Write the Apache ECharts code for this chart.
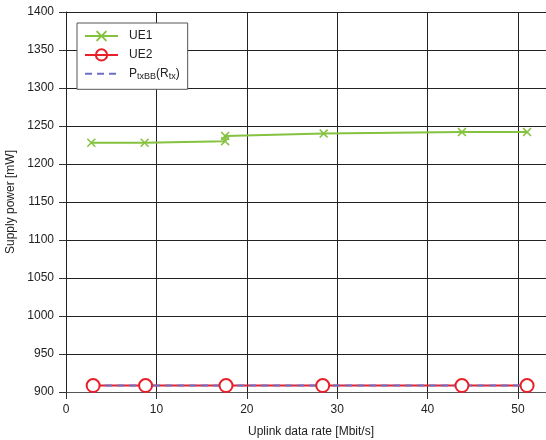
<!DOCTYPE html>
<html><head><meta charset="utf-8">
<script src="https://cdn.jsdelivr.net/npm/echarts@6/dist/echarts.min.js"></script>
<style>html,body{margin:0;padding:0;background:#fff}#c{width:546px;height:440px}</style>
</head><body><div id="c"></div>
<script>
const ue1X = [2.8, 8.7, 17.6, 17.6, 28.5, 43.8, 51.0];
const ue1Y = [1228, 1228, 1230, 1237, 1240, 1242, 1242];
const ue2X = [3, 8.8, 17.7, 28.4, 43.8, 51.0];
const ue2Y = [908.5, 908.5, 908.5, 908.5, 908.5, 908.5];
const pX = [3, 51.0];
const pY = [908.5, 908.5];
const xTicks = [0, 10, 20, 30, 40, 50];
const yTicks = [900, 950, 1000, 1050, 1100, 1150, 1200, 1250, 1300, 1350, 1400];

const pairs = (xs, ys) => xs.map((x, i) => [x, ys[i]]);
const FONT = '"Liberation Sans", Arial, sans-serif';
const GREEN = '#84c23f', RED = '#e8202a', BLUE = '#6d6fc4';
const crossPath = 'path://M0,1.2L1.2,0L5,3.8L8.8,0L10,1.2L6.2,5L10,8.8L8.8,10L5,6.2L1.2,10L0,8.8L3.8,5Z';

const chart = echarts.init(document.getElementById('c'), null, {renderer: 'canvas'});
chart.setOption({
  animation: false,
  backgroundColor: '#fff',
  textStyle: {fontFamily: FONT},
  grid: {left: 66, top: 12, width: 490, height: 380, containLabel: false, outerBoundsMode: 'none'},
  xAxis: {
    type: 'value', min: 0, max: 54.2, interval: 10,
    name: 'Uplink data rate [Mbit/s]', nameLocation: 'middle', nameGap: 34,
    nameTextStyle: {fontSize: 12, color: '#222', fontFamily: FONT},
    axisLine: {show: true, onZero: false, lineStyle: {color: '#555', width: 1}},
    axisTick: {show: true, length: 7, inside: false, lineStyle: {color: '#333'}},
    axisLabel: {fontSize: 12, color: '#222', margin: 12, fontFamily: FONT, showMaxLabel: false,
      formatter: v => xTicks.includes(v) ? String(v) : ''},
    splitLine: {show: true, lineStyle: {color: '#222', width: 1}}
  },
  yAxis: {
    type: 'value', min: 900, max: 1400, interval: 50,
    name: 'Supply power [mW]', nameLocation: 'middle', nameGap: 46, nameRotate: 90,
    nameTextStyle: {fontSize: 12, color: '#222', fontFamily: FONT},
    axisLine: {show: true, onZero: false, lineStyle: {color: '#222', width: 1}},
    axisTick: {show: true, length: 7, inside: false, lineStyle: {color: '#333'}},
    axisLabel: {fontSize: 12, color: '#222', margin: 12, fontFamily: FONT,
      formatter: v => yTicks.includes(v) ? String(v) : ''},
    splitLine: {show: true, lineStyle: {color: '#222', width: 1}}
  },
  legend: {
    orient: 'vertical', left: 77, top: 23,
    padding: [7, 8, 8, 7], itemGap: 6.3, itemWidth: 33, itemHeight: 14,
    borderColor: '#555', borderWidth: 1, backgroundColor: '#fff',
    data: [
      'UE1',
      {name: 'UE2', itemStyle: {color: 'rgba(0,0,0,0)', borderColor: RED, borderWidth: 2}},
      {name: 'P_txBB', itemStyle: {color: 'rgba(0,0,0,0)', borderWidth: 0}}
    ],
    formatter: n => n === 'P_txBB' ? 'P{sub|txBB}(R{sub|tx})' : n,
    textStyle: {fontSize: 12, color: '#222', fontFamily: FONT, padding: [0, 0, 0, 6],
      rich: {sub: {fontSize: 9, fontFamily: FONT, color: '#222', verticalAlign: 'bottom', padding: [6, 0, 0, 0]}}}
  },
  series: [
    {
      name: 'UE1', type: 'line', data: pairs(ue1X, ue1Y),
      symbol: crossPath, symbolSize: 9,
      itemStyle: {color: GREEN}, lineStyle: {color: GREEN, width: 2}, z: 3
    },
    {
      name: 'UE2', type: 'line', data: pairs(ue2X, ue2Y),
      symbol: 'circle', symbolSize: 13, showSymbol: false,
      itemStyle: {color: '#fff', borderColor: RED, borderWidth: 2},
      lineStyle: {color: RED, width: 2}, z: 2
    },
    {
      name: 'P_txBB', type: 'line', data: pairs(pX, pY),
      symbol: 'none',
      itemStyle: {color: BLUE}, lineStyle: {color: BLUE, width: 2, type: [7, 5]}, z: 3
    },
    {
      name: 'UE2', type: 'scatter', data: pairs(ue2X, ue2Y),
      symbol: 'circle', symbolSize: 13,
      itemStyle: {color: '#fff', borderColor: RED, borderWidth: 2, opacity: 1}, z: 4
    }
  ]
});
</script></body></html>
